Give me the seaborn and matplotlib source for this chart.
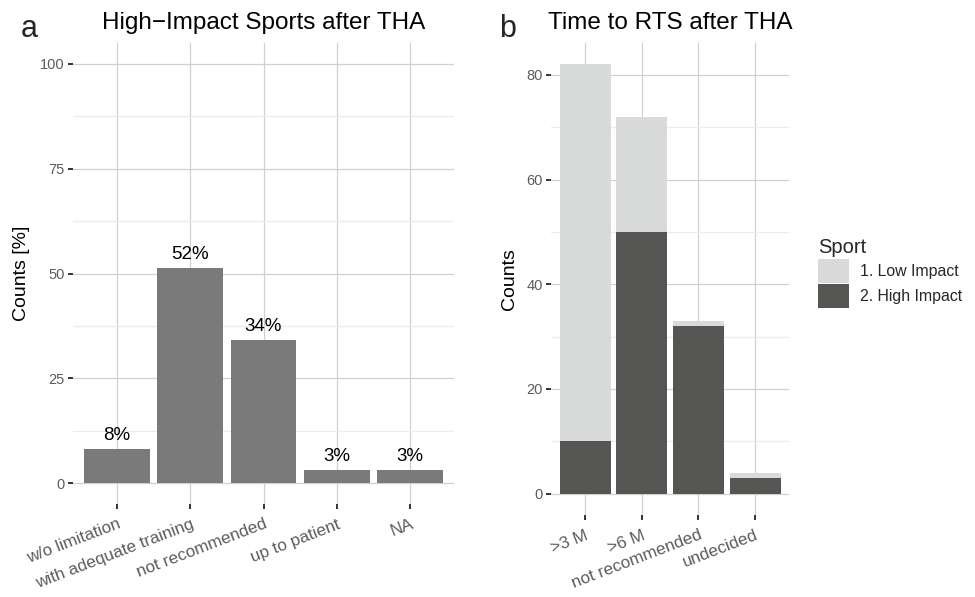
import matplotlib
matplotlib.use("Agg")
import matplotlib.pyplot as plt
import seaborn as sns
import numpy as np
import pandas as pd
from matplotlib.patches import Patch

# ---- data ----
rec_categories = ["w/o limitation", "with adequate training", "not recommended", "up to patient", "NA"]
rec_percent = [8.1, 51.2, 34.1, 3.1, 3.1]
rec_labels = ["8%", "52%", "34%", "3%", "3%"]

rts_categories = [">3 M", ">6 M", "not recommended", "undecided"]
rts_low = [72, 22, 1, 1]
rts_high = [10, 50, 32, 3]
sport_levels = ["1. Low Impact", "2. High Impact"]

left_ticks = [0, 25, 50, 75, 100]
right_ticks = [0, 20, 40, 60, 80]

# ---- style ----
sns.set_theme(style="white")
plt.rcParams["font.family"] = ["Liberation Sans", "DejaVu Sans"]

BAR_GRAY = "#7a7a7a"
LOW_COL = "#d9dbda"
HIGH_COL = "#555553"
MAJ_GRID = "#d0d0d0"
MIN_GRID = "#ececec"
TICK_TXT = "#5c5c5c"

fig = plt.figure(figsize=(9.75, 5.97), dpi=100)
W, H = 975, 597

def px_axes(x0, x1, ytop, ybot):
    return fig.add_axes([x0 / W, 1 - ybot / H, (x1 - x0) / W, (ybot - ytop) / H])

ax1 = px_axes(73, 454, 43, 504)
ax2 = px_axes(551, 789, 43, 515)

def style_axes(ax, yticks, minor):
    for s in ax.spines.values():
        s.set_visible(False)
    ax.set_yticks(yticks)
    ax.set_yticks(minor, minor=True)
    ax.grid(True, which="major", axis="both", color=MAJ_GRID, lw=0.9, zorder=0)
    ax.grid(True, which="minor", axis="y", color=MIN_GRID, lw=0.9, zorder=0)
    ax.set_axisbelow(True)
    ax.tick_params(axis="both", which="major", bottom=True, left=True, direction="out",
                   length=3.6, width=1.4, color="#333333", labelcolor=TICK_TXT, pad=2.5)
    ax.tick_params(axis="y", labelsize=10.5)
    ax.tick_params(axis="y", which="minor", length=0, left=False)
    ax.tick_params(axis="x", labelsize=12.3, pad=5.5)

# ---- panel a ----
df1 = pd.DataFrame({"cat": rec_categories, "pct": rec_percent})
sns.barplot(data=df1, x="cat", y="pct", order=rec_categories, color=BAR_GRAY,
            saturation=1, width=0.9, linewidth=0, ax=ax1, zorder=3)
for i, (v, lab) in enumerate(zip(rec_percent, rec_labels)):
    ax1.text(i, v + 1.2, lab, ha="center", va="bottom", fontsize=13.5, color="black")
ax1.set_xlim(-0.6, len(rec_categories) - 0.4)
ax1.set_ylim(-5, 105)
style_axes(ax1, left_ticks, [12.5, 37.5, 62.5, 87.5])
ax1.set_xlabel("")
ax1.set_ylabel("Counts [%]", fontsize=14, color="black")
ax1.yaxis.set_label_coords(-0.135, 0.5)
ax1.yaxis.label.set_va("center")
plt.setp(ax1.get_xticklabels(), rotation=21, ha="right", rotation_mode="anchor")
ax1.set_title("High\u2212Impact Sports after THA", fontsize=17.5, color="black", pad=10)

# ---- panel b ----
totals = [l + h for l, h in zip(rts_low, rts_high)]
df2 = pd.DataFrame({"cat": rts_categories, "total": totals, "high": rts_high})
sns.barplot(data=df2, x="cat", y="total", order=rts_categories, color=LOW_COL,
            saturation=1, width=0.9, linewidth=0, ax=ax2, zorder=3)
sns.barplot(data=df2, x="cat", y="high", order=rts_categories, color=HIGH_COL,
            saturation=1, width=0.9, linewidth=0, ax=ax2, zorder=4)
ax2.set_xlim(-0.6, len(rts_categories) - 0.4)
ymax = max(totals)
ax2.set_ylim(-0.05 * ymax, 1.05 * ymax)
style_axes(ax2, right_ticks, [10, 30, 50, 70])
ax2.set_xlabel("")
ax2.set_ylabel("Counts", fontsize=14, color="black")
ax2.yaxis.set_label_coords(-0.175, 0.5)
ax2.yaxis.label.set_va("center")
plt.setp(ax2.get_xticklabels(), rotation=21, ha="right", rotation_mode="anchor")
ax2.set_title("Time to RTS after THA", fontsize=17.5, color="black", pad=10)

# ---- panel tags ----
fig.text(21 / W, 1 - 37 / H, "a", fontsize=22, va="baseline", ha="left")
fig.text(499 / W, 1 - 37 / H, "b", fontsize=22, va="baseline", ha="left")

# ---- legend ----
handles = [Patch(facecolor=LOW_COL, edgecolor="none"), Patch(facecolor=HIGH_COL, edgecolor="none")]
leg = fig.legend(handles, sport_levels, title="Sport", loc="upper left",
                 bbox_to_anchor=(804 / W, 1 - 224 / H), frameon=False,
                 fontsize=11.4, title_fontsize=14.5, handlelength=1.95, handleheight=1.9,
                 handletextpad=0.7, labelspacing=0.12, alignment="left")

fig.savefig("out.png", dpi=100)
